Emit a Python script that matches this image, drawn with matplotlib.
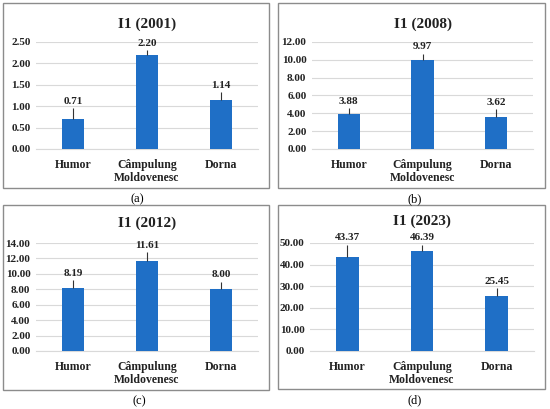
import matplotlib
matplotlib.use('Agg')
import matplotlib.pyplot as plt
from matplotlib.patches import Rectangle

plt.rcParams['font.family'] = ['Liberation Serif', 'DejaVu Serif']

# data
categories = ['Humor', 'Câmpulung\nMoldovenesc', 'Dorna']
titles = ['I1 (2001)', 'I1 (2008)', 'I1 (2012)', 'I1 (2023)']
captions = ['(a)', '(b)', '(c)', '(d)']
values = [
    [0.71, 2.20, 1.14],
    [3.88, 9.97, 3.62],
    [8.19, 11.61, 8.00],
    [43.37, 46.39, 25.45],
]
errors = [
    [0.25, 0.12, 0.19],
    [0.74, 0.74, 0.82],
    [0.96, 1.20, 1.00],
    [5.90, 2.90, 3.90],
]
y_max = [2.5, 12, 14, 50]
y_step = [0.5, 2, 2, 10]

W, H = 550, 409
fig = plt.figure(figsize=(W / 100, H / 100), dpi=100)

bar_color = '#1F6FC6'

# pixel layout: (left, right, top, bottom) of plot area, panel box, caption pos
plot_px = [(36, 258, 42, 149), (312, 533, 42, 149),
           (36, 258, 243, 351), (310, 534, 243, 351)]
box_px = [(3, 269, 3, 188), (278, 545, 3, 188),
          (3, 269, 205, 390), (278, 545, 205, 389)]
cap_px = [(137, 199), (415, 199), (139, 401), (415, 400)]
title_pad = [10, 10, 12, 13]

for i in range(4):
    x0, x1, y0, y1 = box_px[i]
    fig.patches.append(Rectangle((x0 / W, 1 - y1 / H), (x1 - x0) / W, (y1 - y0) / H,
                                 transform=fig.transFigure, fill=False,
                                 edgecolor='#8c8c8c', lw=1.0))
    l, r, t, b = plot_px[i]
    ax = fig.add_axes([l / W, 1 - b / H, (r - l) / W, (b - t) / H])
    xs = range(len(categories))
    ax.bar(xs, values[i], width=0.3, color=bar_color, zorder=3)
    ax.errorbar(xs, values[i], yerr=[[0, 0, 0], errors[i]], fmt='none',
                ecolor='#333333', elinewidth=0.8, capsize=0, zorder=4)
    for x, v, e in zip(xs, values[i], errors[i]):
        ax.annotate('%.2f' % v, (x, v + e), xytext=(0, 1.5), textcoords='offset points',
                    ha='center', va='bottom', fontsize=8, fontweight='bold',
                    color='#222222', annotation_clip=False)
    ax.set_xlim(-0.5, 2.5)
    ax.set_ylim(0, y_max[i])
    ticks = [k * y_step[i] for k in range(int(round(y_max[i] / y_step[i])) + 1)]
    ax.set_yticks(ticks)
    ax.set_yticklabels(['%.2f' % tk for tk in ticks], fontsize=8, fontweight='bold',
                       color='#222222')
    ax.set_xticks(list(xs))
    ax.set_xticklabels(categories, fontsize=8.5, fontweight='bold', color='#222222',
                       linespacing=1.1)
    ax.grid(axis='y', color='#d9d9d9', lw=0.8, zorder=0)
    for s in ax.spines.values():
        s.set_visible(False)
    ax.spines['bottom'].set_visible(True)
    ax.spines['bottom'].set_color('#d9d9d9')
    ax.tick_params(length=0)
    ax.tick_params(axis='x', pad=7)
    ax.tick_params(axis='y', pad=4)
    ax.set_facecolor('none')
    ax.set_title(titles[i], fontsize=11, fontweight='bold', color='#222222',
                 pad=title_pad[i])
    cx, cy = cap_px[i]
    fig.text(cx / W, 1 - cy / H, captions[i], ha='center', va='center', fontsize=9)

fig.savefig('out.png', dpi=100)
